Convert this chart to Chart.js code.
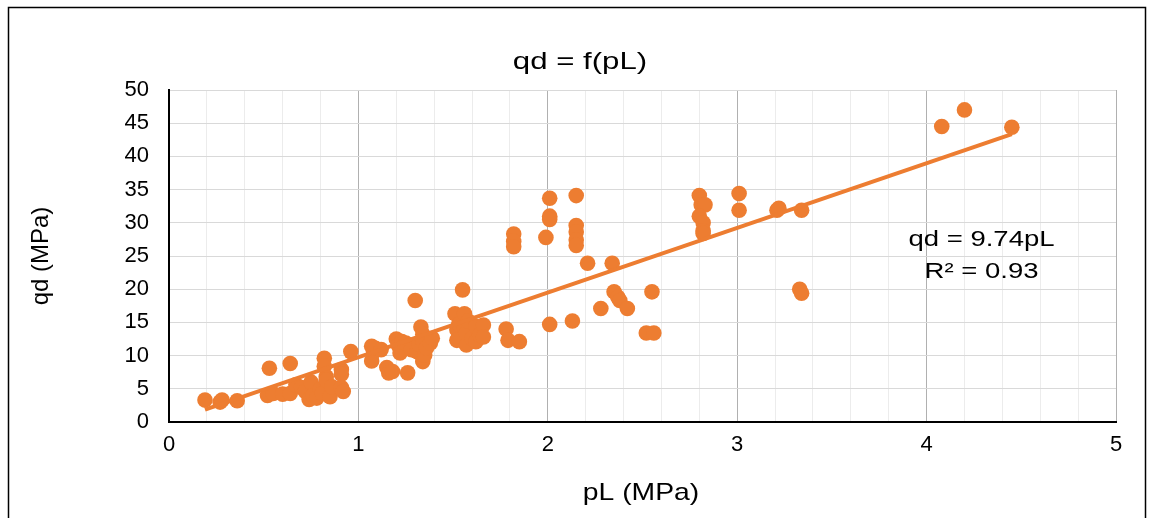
<!DOCTYPE html>
<html>
<head>
<meta charset="utf-8">
<script src="https://cdn.jsdelivr.net/npm/chart.js@4.4.0/dist/chart.umd.min.js"></script>
<style>
  html, body { margin: 0; padding: 0; background: #fff; }
</style>
</head>
<body>
<canvas id="qdChart" width="1150" height="518"></canvas>
<script>
// measured points, pL (MPa) vs qd (MPa)
const pL = [
  0.19, 0.27, 0.28, 0.36, 0.52, 0.53, 0.55, 0.60, 0.64, 0.64,
  0.67, 0.70, 0.72, 0.74, 0.75, 0.76, 0.78, 0.80, 0.81, 0.82,
  0.82, 0.83, 0.83, 0.85, 0.86, 0.91, 0.91, 0.91, 0.92, 0.96,
  1.07, 1.08, 1.07, 1.09, 1.12, 1.15, 1.16, 1.18, 1.20, 1.21,
  1.22, 1.22, 1.23, 1.25, 1.26, 1.28, 1.30, 1.31, 1.32, 1.33,
  1.34, 1.34, 1.34, 1.35, 1.36, 1.38, 1.39, 1.51, 1.52, 1.52,
  1.53, 1.55, 1.56, 1.56, 1.57, 1.57, 1.58, 1.60, 1.62, 1.62,
  1.64, 1.66, 1.66, 1.78, 1.79, 1.82, 1.82, 1.82, 1.85, 1.99,
  2.01, 2.01, 2.01, 2.01, 2.13, 2.15, 2.15, 2.15, 2.15, 2.15,
  2.21, 2.34, 2.35, 2.37, 2.38, 2.42, 2.28, 2.52, 2.56, 2.55,
  2.80, 2.81, 2.83, 2.80, 2.82, 2.82, 2.82, 3.01, 3.01, 3.21,
  3.22, 3.34, 3.33, 3.34, 4.08, 4.20, 4.45
];
const qd = [
  3.3, 3.0, 3.3, 3.2, 4.0, 8.1, 4.3, 4.2, 8.8, 4.3,
  5.6, 5.2, 4.6, 3.4, 6.0, 4.0, 3.6, 5.0, 4.3, 9.6,
  8.4, 6.8, 6.3, 3.8, 5.3, 7.9, 7.2, 5.2, 4.6, 10.6,
  11.4, 10.6, 9.2, 11.1, 10.9, 8.2, 7.4, 7.6, 12.5, 11.6,
  11.2, 10.4, 12.1, 11.9, 7.4, 10.9, 18.3, 10.6, 11.7, 14.3,
  13.2, 12.2, 9.1, 10.1, 11.2, 11.9, 12.6, 16.3, 13.9, 12.3,
  14.7, 19.9, 16.3, 14.2, 11.6, 13.4, 15.2, 12.6, 14.4, 12.1,
  13.1, 14.6, 12.8, 14.0, 12.3, 28.3, 27.2, 26.4, 12.1, 27.8,
  33.7, 31.0, 30.5, 14.7, 15.2, 34.1, 29.6, 28.6, 27.4, 26.6,
  23.9, 23.9, 19.6, 18.8, 18.3, 17.1, 17.1, 13.4, 13.4, 19.6,
  34.1, 32.7, 32.7, 31.0, 30.0, 28.8, 28.4, 34.4, 31.9, 31.9,
  32.2, 31.9, 20.0, 19.4, 44.5, 47.0, 44.4
];
// linear trendline end points
const trendX = [0.19, 4.45];
const trendY = [1.85, 43.34];

const orange = '#ED7D31';
const font = 'Arial, "Liberation Sans", sans-serif';

function isWhole(v) {
  return Math.abs(v - Math.round(v)) < 1e-6;
}

// the source picture has its text a bit wider than plain Arial
function wideText(ctx, text, cx, cy, sx) {
  ctx.save();
  ctx.translate(cx, cy);
  ctx.scale(sx, 1);
  ctx.fillText(text, 0, 0);
  ctx.restore();
}

const decor = {
  id: 'decor',
  beforeDraw(chart) {
    const ctx = chart.ctx;
    ctx.save();
    ctx.fillStyle = '#fff';
    ctx.fillRect(0, 0, chart.width, chart.height);
    ctx.strokeStyle = '#000';
    ctx.lineWidth = 1.5;
    ctx.strokeRect(8.5, 7.5, 1137, 540);
    ctx.restore();
  },
  afterDraw(chart) {
    const ctx = chart.ctx;
    const xs = chart.scales.x, ys = chart.scales.y;
    ctx.save();
    ctx.fillStyle = '#000';
    ctx.textAlign = 'center';
    ctx.textBaseline = 'middle';
    ctx.font = '24px ' + font;
    wideText(ctx, 'qd = f(pL)', 580, 62, 1.3);
    wideText(ctx, 'pL (MPa)', 641, 493, 1.18);
    ctx.font = '22px ' + font;
    const ex = xs.getPixelForValue(4.29);
    wideText(ctx, 'qd = 9.74pL', ex, ys.getPixelForValue(27.4), 1.25);
    wideText(ctx, 'R² = 0.93', ex, ys.getPixelForValue(22.6), 1.25);
    ctx.restore();
  }
};

const data = {
  datasets: [{
    label: 'trend',
    data: trendX.map((x, i) => ({ x: x, y: trendY[i] })),
    showLine: true,
    borderColor: orange,
    borderWidth: 4,
    pointRadius: 0,
    order: 0
  }, {
    label: 'qd',
    data: pL.map((x, i) => ({ x: x, y: qd[i] })),
    backgroundColor: orange,
    borderWidth: 0,
    pointRadius: 7.8,
    pointHoverRadius: 7.8,
    order: 1
  }]
};

const config = {
  type: 'scatter',
  data,
  options: {
    responsive: false,
    animation: false,
    devicePixelRatio: 1,
    layout: { padding: { left: 0, top: 90, right: 34, bottom: 0 } },
    plugins: {
      legend: { display: false },
      tooltip: { enabled: false },
      title: { display: false }
    },
    scales: {
      x: {
        type: 'linear',
        min: 0,
        max: 5,
        afterFit: (s) => { s.height = 96; },
        ticks: {
          stepSize: 0.2,
          autoSkip: false,
          maxRotation: 0,
          padding: 10,
          color: '#000',
          font: { size: 22, family: font },
          callback: (v) => isWhole(v) ? Math.round(v) : ''
        },
        grid: {
          drawTicks: false,
          lineWidth: 1,
          color: (c) => isWhole(c.tick.value) ? '#b0b0b0' : '#ececec'
        },
        border: { color: '#000', width: 2 }
      },
      y: {
        type: 'linear',
        min: 0,
        max: 50,
        afterFit: (s) => { s.width = 169; },
        ticks: {
          stepSize: 5,
          padding: 20,
          color: '#000',
          font: { size: 22, family: font }
        },
        grid: {
          drawTicks: false,
          lineWidth: 1,
          color: '#d9d9d9'
        },
        border: { color: '#000', width: 2 },
        title: {
          display: true,
          text: 'qd (MPa)',
          color: '#000',
          font: { size: 24, family: font },
          padding: { top: 27, bottom: 0 }
        }
      }
    }
  },
  plugins: [decor]
};

const myChart = new Chart(document.getElementById('qdChart'), config);
</script>
</body>
</html>
